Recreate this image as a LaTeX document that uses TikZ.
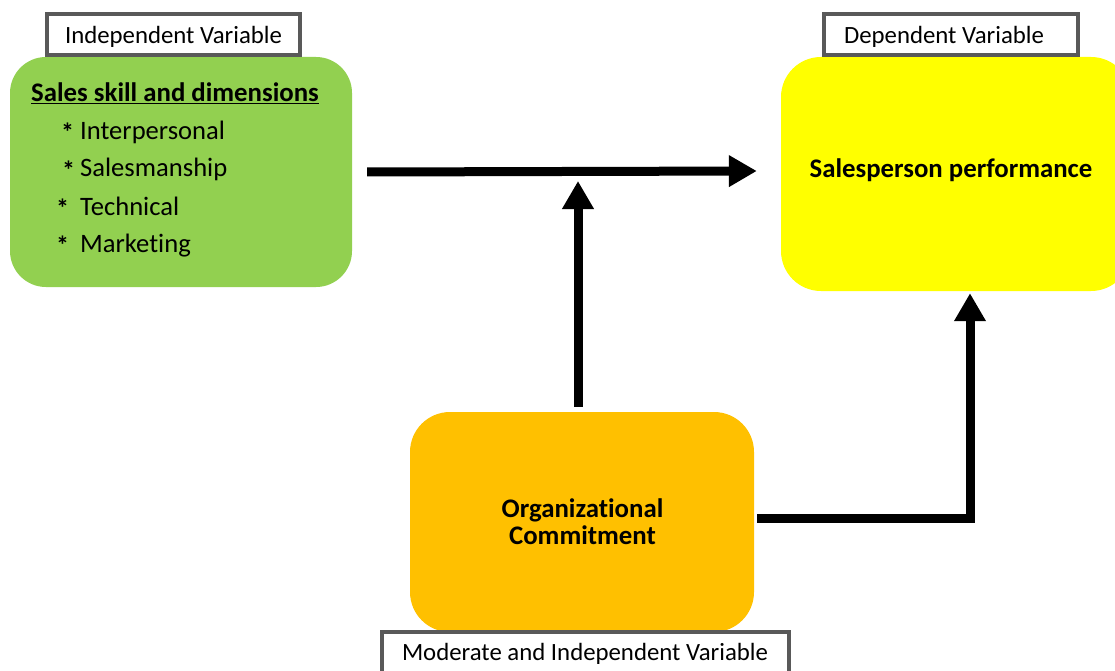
\documentclass[tikz,border=0pt]{standalone}
\usepackage{fontspec}
\setmainfont{Carlito}[Ligatures={NoCommon}]
\usetikzlibrary{arrows.meta}
\definecolor{boxgreen}{HTML}{92D050}
\definecolor{boxyellow}{HTML}{FFFF00}
\definecolor{boxorange}{HTML}{FFC000}
\definecolor{lblgray}{HTML}{595959}
\tikzset{
  varbox/.style={draw=none, rounded corners=38pt, inner sep=0pt},
  lblbox/.style={draw=lblgray, line width=4pt, fill=white, inner sep=0pt},
  lbltext/.style={font=\fontsize{24.8}{27}\selectfont, inner sep=0pt, anchor=base},
  bodytext/.style={font=\fontsize{26.6}{29}\selectfont, inner sep=0pt, anchor=base west},
  boldtext/.style={font=\fontsize{26.8}{28}\selectfont\bfseries, inner sep=0pt, anchor=base, align=center},
  star/.style={font=\fontsize{26}{28}\selectfont\bfseries, inner sep=0pt, anchor=base west},
  bigarrow/.style={line width=9pt, -{Triangle[length=28pt, width=30pt]}}
}
\begin{document}
\begin{tikzpicture}[x=1pt,y=-1pt]
\useasboundingbox (0,0) rectangle (1115,671);
% main boxes
\node[varbox, fill=boxgreen, minimum width=342pt, minimum height=230pt, rounded corners=36pt] (green) at (181,172) {};
\node[varbox, fill=boxyellow, minimum width=350pt, minimum height=234pt, rounded corners=40pt] (yellow) at (956,174) {};
\node[varbox, fill=boxorange, minimum width=344pt, minimum height=220pt, rounded corners=40pt] (orange) at (582,522) {};
% label boxes
\node[lblbox, minimum width=253pt, minimum height=41pt] (ivbox) at (173.5,34.5) {};
\node[lblbox, minimum width=254pt, minimum height=41pt] (dvbox) at (951,34.5) {};
\node[lblbox, minimum width=407pt, minimum height=58pt] (mvbox) at (585.5,661) {};
\begin{scope}
\clip (ivbox.north west) rectangle ([yshift=10pt]ivbox.south east);
\node[lbltext] (ivtext) at (173.5,44) {Independent Variable};
\end{scope}
\begin{scope}
\clip (dvbox.north west) rectangle ([yshift=10pt]dvbox.south east);
\node[lbltext] (dvtext) at (944,44) {Dependent Variable};
\end{scope}
\node[lbltext] (mvtext) at (585,660) {Moderate and Independent Variable};
% green text
\node[boldtext] (title) at (175,102) {\underline{Sales skill and dimensions}};
\node[star] (s1) at (61,142) {*};
\node[bodytext] (t1) at (80,140) {Interpersonal};
\node[star] (s2) at (62,179) {*};
\node[bodytext] (t2) at (80,177) {Salesmanship};
\node[star] (s3) at (56,217) {*};
\node[bodytext] (t3) at (80,215) {Technical};
\node[star] (s4) at (56,254) {*};
\node[bodytext] (t4) at (80,252) {Marketing};
% yellow text
\node[boldtext] (perf) at (951,178) {Salesperson performance};
% orange text
\node[boldtext] (org1) at (582.5,517) {Organizational};
\node[boldtext] (org2) at (582.5,544) {Commitment};
% arrows
\coordinate (hstart) at ([xshift=15pt]green.east);
\coordinate (htip) at ([xshift=-24pt, yshift=3pt]yellow.west);
\draw[bigarrow] (hstart) -- (htip);
\coordinate (vstart) at ([xshift=-4pt, yshift=5pt]orange.north);
\coordinate (vtip) at (vstart |- 0,181);
\draw[bigarrow] (vstart) -- (vtip);
\coordinate (estart) at ([xshift=3pt, yshift=4pt]orange.east);
\coordinate (etip) at ([xshift=14pt, yshift=-2pt]yellow.south);
\draw[bigarrow] (estart) -| (etip);
\end{tikzpicture}
\end{document}
